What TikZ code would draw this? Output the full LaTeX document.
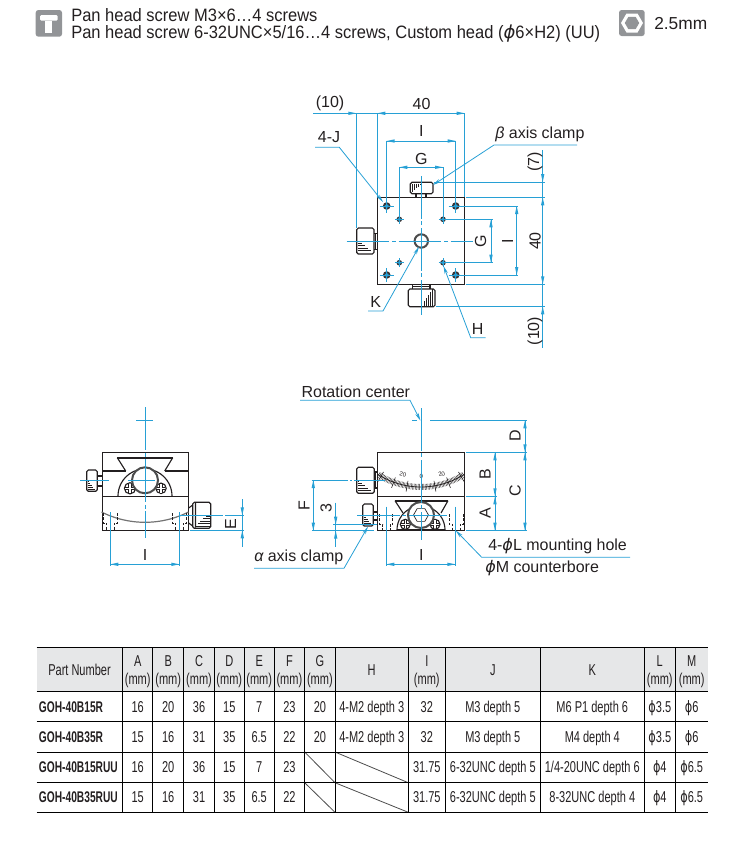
\documentclass[tikz,border=0pt]{standalone}
\usepackage{fontspec}
\setmainfont{Liberation Sans}
\newfontfamily\narrowfont[FakeStretch=0.70]{Liberation Sans}
\newfontfamily\boldnarrow[FakeStretch=0.66]{Liberation Sans}
\newfontfamily\headfont[FakeStretch=0.92]{Liberation Sans}
\newfontfamily\gkfont{DejaVu Sans}
\newfontfamily\gknarrow[FakeStretch=0.72]{DejaVu Sans}
\usetikzlibrary{arrows.meta}
\definecolor{dimc}{HTML}{27A0D5}
\definecolor{inkc}{HTML}{231F20}
\definecolor{iconc}{HTML}{929497}
\definecolor{headc}{HTML}{E6E7E8}
\newcommand{\phisym}{{\gkfont\itshape\char"03D5}}
\newcommand{\tabphi}{{\gknarrow\char"03D5}}
\newcommand{\atip}[3]{\fill[dimc,shift={(#1,#2)},rotate=#3] (0,0)--(-8,1.7)--(-8,-1.7)--cycle;}
\newcommand{\bighole}[2]{\fill[inkc!90] (#1,#2) circle[radius=3.8];\fill[dimc] (#1-2.2,#2)--(#1,#2-2.2)--(#1+2.2,#2)--(#1,#2+2.2)--cycle;\draw[dimline] (#1-7,#2)--(#1+7,#2) (#1,#2-7)--(#1,#2+7);}
\newcommand{\smallhole}[2]{\fill[inkc!90] (#1,#2) circle[radius=2.8];\fill[dimc] (#1-1.8,#2)--(#1,#2-1.8)--(#1+1.8,#2)--(#1,#2+1.8)--cycle;\draw[dimline] (#1-4.5,#2)--(#1+4.5,#2) (#1,#2-4.5)--(#1,#2+4.5);}
\newcommand{\semi}[3]{\draw[part] plot[domain=-90:90,samples=31]({#1+#3*sin(\x)},{#2-#3*cos(\x)});}
\newcommand{\xscrew}[3]{\draw[part,fill=white] (#1,#2) circle[radius=#3];
  \draw[line width=2.4pt,inkc] (#1-#3+1,#2)--(#1+#3-1,#2) (#1,#2-#3+1)--(#1,#2+#3-1);
  \draw[line width=1.1pt,white] (#1-#3+1,#2)--(#1+#3-1,#2) (#1,#2-#3+1)--(#1,#2+#3-1);}
\newcommand{\cbore}[4]{\draw[hidden] (#1-#2,#3)--(#1-#2,#3+10)--(#1-#2*0.55,#3+10)--(#1-#2*0.55,#4) (#1+#2,#3)--(#1+#2,#3+10)--(#1+#2*0.55,#3+10)--(#1+#2*0.55,#4);}
\newcommand{\hhatch}[6]{\foreach \i in {0,...,#4}{\draw[thinpart] (#1,#2+#3*\i)--(#1+#5+#6*\i,#2+#3*\i);}}
\newcommand{\cell}[4]{\node[tabtext,anchor=base] (#1) at (#2,#3+5.6) {#4};}
\newcommand{\pn}[3]{\node[tabtext,anchor=base west,inner xsep=0pt,font=\boldnarrow\fontsize{11.6pt}{12pt}\selectfont\bfseries] (#1) at (38.7,#2+5.6) {#3};}
\newcommand{\hcol}[3]{\node[tabtext,anchor=base] (#1a) at (#2,666.5) {#3};\node[tabtext,anchor=base] (#1b) at (#2,684.3) {(mm)};}
\tikzset{
  x=0.75pt,y=-0.75pt,
  part/.style={inkc,line width=0.85pt},
  thinpart/.style={inkc,line width=0.5pt},
  boldpart/.style={inkc,line width=1.8pt},
  ring/.style={black!70,line width=1.5pt},
  hidden/.style={inkc,line width=0.5pt,dash pattern=on 2pt off 1.2pt},
  dimline/.style={dimc,line width=0.6pt},
  centerline/.style={dimc,line width=0.6pt,dash pattern=on 32pt off 2pt on 3pt off 2pt},
  leaderline/.style={dimc,line width=0.6pt,-{Stealth[length=6pt,width=2.6pt]}},
  lab/.style={inkc,inner sep=0pt,font=\fontsize{12pt}{13pt}\selectfont},
  tabtext/.style={inkc,inner sep=0pt,font=\narrowfont\fontsize{11.8pt}{12pt}\selectfont},
  headtext/.style={inkc,inner sep=0pt,anchor=west,font=\headfont\fontsize{13.45pt}{14pt}\selectfont},
  tinytext/.style={inkc,inner sep=0pt,font=\fontsize{4.5pt}{5pt}\selectfont},
  tabrule/.style={black,line width=0.75pt},
  slash/.style={black!70,line width=0.6pt},
}
\begin{document}
\begin{tikzpicture}
\useasboundingbox (0,0) rectangle (743,843);
% ---------- header
\fill[iconc,rounded corners=2pt] (35.7,10) rectangle (62,36.7);
\fill[white,rounded corners=1pt] (40,20.7)--(40,15)--(57.7,15)--(57.7,20.7)--cycle;
\fill[white] (45,20.7) rectangle (52.3,32.7);
\node[headtext] (h1) at (71,15) {Pan head screw M3×6…4 screws};
\node[headtext] (h2) at (71,33.5) {Pan head screw 6-32UNC×5/16…4 screws, Custom head ({\phisym}6×H2) (UU)};
\fill[iconc,rounded corners=2pt] (619,10) rectangle (644.7,36);
\fill[white] (621,23)--(626.5,13.5)--(637.5,13.5)--(643,23)--(637.5,32.5)--(626.5,32.5)--cycle;
\fill[iconc] (624.8,23)--(628.4,16.8)--(635.6,16.8)--(639.2,23)--(635.6,29.2)--(628.4,29.2)--cycle;
\node[headtext,font=\fontsize{13pt}{14pt}\selectfont] (h3) at (654,24) {2.5mm};

% ---------- top view parts
\draw[part] (377.3,197.3) rectangle (464.7,284.3);
\draw[part,rounded corners=1.2pt] (410.3,182.3) rectangle (433,193.7);
\draw[part] (416,193.7)--(416,197.3) (426,193.7)--(426,197.3);
\foreach \i in {0,...,4}{\draw[thinpart] (412+2*\i,183.5)--(412+2*\i,192-1.8*\i);}
\draw[part,rounded corners=1.2pt] (408.3,289) rectangle (435,306.7);
\draw[part] (412.3,284.3)--(412.3,289) (430,284.3)--(430,289) (412.3,286.5)--(430,286.5);
\foreach \i in {0,...,4}{\draw[thinpart] (424+2.2*\i,305.5)--(424+2.2*\i,301-3*\i);}
\draw[part,rounded corners=1.2pt] (356.7,228) rectangle (374,254);
\draw[part] (374,233.3)--(377.3,233.3) (374,249.3)--(377.3,249.3) (375.5,233.3)--(375.5,249.3);
\hhatch{357.5}{241}{2.4}{4}{1.5}{3}
\draw[ring] (421.3,241) circle[radius=6.7];

% ---------- top view dims
\draw[dimline] (313,113.3)--(464.7,113.3);
\draw[dimline] (356.3,113.3)--(356.3,228) (377.3,113.3)--(377.3,197.3) (464.7,113.3)--(464.7,197.3);
\atip{356.3}{113.3}{0}\atip{377.3}{113.3}{180}\atip{464.7}{113.3}{0}
\draw[dimline] (386.7,141)--(455.7,141) (386.7,141)--(386.7,213) (455.7,141)--(455.7,213);
\atip{386.7}{141}{180}\atip{455.7}{141}{0}
\draw[dimline] (399.3,167.3)--(443,167.3) (399.3,167.3)--(399.3,224) (443,167.3)--(443,224);
\atip{399.3}{167.3}{180}\atip{443}{167.3}{0}
\draw[dimline] (542.7,150)--(542.7,348);
\atip{542.7}{182}{270}\atip{542.7}{197.3}{90}\atip{542.7}{284.3}{270}\atip{542.7}{306.3}{90}
\draw[dimline] (433.5,182)--(545,182) (466,197.3)--(545,197.3) (466,284.3)--(545,284.3) (436,306.3)--(545,306.3);
\draw[dimline] (460,206)--(518,206) (460,275)--(518,275) (516.7,206)--(516.7,275);
\atip{516.7}{206}{90}\atip{516.7}{275}{270}
\draw[dimline] (444,219.3)--(492.5,219.3) (444,262.7)--(492.5,262.7) (491,219.3)--(491,262.7);
\atip{491}{219.3}{90}\atip{491}{262.7}{270}
\draw[centerline] (421.3,176)--(421.3,315);
\draw[centerline] (346.7,241)--(473,241);
\bighole{386.7}{206}\bighole{455.7}{206}\bighole{386.7}{275}\bighole{455.7}{275}
\smallhole{399.3}{219.3}\smallhole{443}{219.3}\smallhole{399.3}{262.7}\smallhole{443}{262.7}
\coordinate (jend) at (383,202);
\coordinate (bend) at (433,185);
\coordinate (kend) at (419,246.7);
\coordinate (hend) at (443.5,266);
\draw[leaderline] (315,147.3)--(339.3,147.3)--(jend);
\draw[leaderline] (577,145)--(494,145)--(bend);
\draw[leaderline] (368,311)--(383,311)--(kend);
\draw[leaderline] (485.7,337.7)--(470.7,337.7)--(hend);
\node[lab] (t10a) at (330,103) {(10)};
\node[lab] (t40a) at (421.5,104) {40};
\node[lab] (tIa) at (421.3,131) {I};
\node[lab] (tGa) at (421.3,159) {G};
\node[lab] (t4J) at (329,137.5) {4-J};
\node[lab,anchor=west] (tbeta) at (495,134) {{\itshape β} axis clamp};
\node[lab] (tK) at (375.7,301.7) {K};
\node[lab] (tH) at (477.7,329) {H};
\node[lab,rotate=90] (tGb) at (480.5,241) {G};
\node[lab,rotate=90] (tIb) at (507.5,241) {I};
\node[lab,rotate=90] (t40b) at (535,241) {40};
\node[lab,rotate=90] (t7) at (535,162) {(7)};
\node[lab,rotate=90] (t10b) at (535,331) {(10)};

% ---------- left side view parts
\draw[part] (102.3,452.3) rectangle (188.7,530.3);
\draw[part] (102.3,471)--(125.7,471) (164.7,471)--(188.7,471) (102.3,496.3)--(188.7,496.3);
\draw[boldpart] (117.3,457.7)--(172.7,457.7);
\draw[part] (117.3,457.7)--(125.7,471) (172.7,457.7)--(164.7,471);
\semi{145}{496}{27}
\xscrew{130}{488.3}{5.6}\xscrew{161}{488.3}{5.2}
\draw[ring,fill=white] (145,480.3) circle[radius=13];
\draw[black!55,line width=0.9pt] plot[domain=-26.6:26.6,samples=31]({145+97*sin(\x)},{425.3+97*cos(\x)});
\cbore{110.3}{7}{513}{530}\cbore{179.3}{7}{513}{530}
\draw[part,rounded corners=1.2pt] (86.7,470) rectangle (97.3,491.3);
\draw[part] (97.3,476)--(102.3,476) (97.3,486)--(102.3,486);
\hhatch{87.5}{481}{2.2}{4}{1}{1.6}
\draw[part,rounded corners=1.2pt] (192.7,502.3) rectangle (210.7,528.3);
\draw[part] (188.7,508)--(192.7,505) (188.7,523)--(192.7,526) (195.5,503)--(195.5,527.6);
\foreach \i in {0,...,4}{\draw[thinpart] (209.7,516+2.5*\i)--(206-2.8*\i,516+2.5*\i);}
% ---------- left side view dims
\draw[centerline] (145,407.3)--(145,538.3);
\draw[dimline] (136,420.3)--(153,420.3);
\draw[dimline] (80,480.3)--(109,480.3) (128,480.3)--(155,480.3);
\draw[centerline] (180,515.3)--(227,515.3);
\draw[dimline] (190,530.3)--(244,530.3) (227,515.3)--(244,515.3);
\draw[dimline] (242.3,499)--(242.3,547.3);
\atip{242.3}{515.3}{270}\atip{242.3}{530.3}{90}
\draw[dimline] (110.3,512)--(110.3,566) (179.3,512)--(179.3,566) (110.3,564.3)--(179.3,564.3);
\atip{110.3}{564.3}{180}\atip{179.3}{564.3}{0}
\node[lab] (tIc) at (145,555) {I};
\node[lab,rotate=90] (tE) at (230.7,523.7) {E};

% ---------- right side view parts
\draw[part] (377.3,452.3) rectangle (464.7,530.7);
\draw[part] (377.3,496.3)--(464.7,496.3);
\draw[boldpart] (395,500.7)--(448,500.7);
\draw[part] (395,500.7)--(403,513) (448,500.7)--(441,513);
\draw[inkc,line width=0.6pt] plot[domain=-33:33,samples=31]({421+80*sin(\x)},{407+80*cos(\x)});
\foreach \a in {-32,-31,...,32}{\draw[inkc,line width=0.3pt] ({421+77*sin(\a)},{407+77*cos(\a)})--({421+83*sin(\a)},{407+83*cos(\a)});}
\foreach \a in {-30,-20,-10,0,10,20,30}{\draw[inkc,line width=0.45pt] ({421+75*sin(\a)},{407+75*cos(\a)})--({421+86*sin(\a)},{407+86*cos(\a)});}
\node[tinytext,rotate=-15] (s20a) at (403,474) {20};
\node[tinytext] (s0) at (421.3,476) {0};
\node[tinytext,rotate=15] (s20b) at (441.7,474) {20};
\semi{421}{530}{24}
\draw[boldpart] (397,530.2)--(445,530.2);
\xscrew{405.3}{524.3}{5}\xscrew{435}{524.3}{5}
\draw[ring,fill=white] (421,515) circle[radius=13];
\draw[thinpart] (413.5,515)--(417.2,508.6)--(424.8,508.6)--(428.5,515)--(424.8,521.4)--(417.2,521.4)--cycle;
\cbore{386.3}{6.5}{514}{530}\cbore{456}{7}{514}{530}
\draw[part,rounded corners=1.2pt] (356.7,467.3) rectangle (374.3,493.3);
\draw[part] (374.3,472)--(377.3,472) (374.3,488)--(377.3,488) (375.8,472)--(375.8,488);
\hhatch{357.5}{481}{2.4}{4}{1.5}{3}
\draw[part,rounded corners=1.2pt] (362.7,504) rectangle (373.3,526);
\draw[part] (373.3,512)--(377.3,512) (373.3,520)--(377.3,520);
\hhatch{363.5}{515}{2.2}{4}{1}{1.5}
% ---------- right side view dims
\draw[centerline] (421.3,408)--(421.3,540);
\draw[dimline] (412.3,420.3)--(417,420.3) (430,420.3)--(527,420.3);
\draw[dimline] (466,452.3)--(527,452.3) (466,496.3)--(497,496.3) (466,530.7)--(527,530.7);
\draw[dimline] (495,452.3)--(495,530.7) (525,420.3)--(525,530.7);
\atip{495}{452.3}{90}\atip{495}{496.3}{270}\atip{495}{496.3}{90}\atip{495}{530.7}{270}
\atip{525}{420.3}{90}\atip{525}{452.3}{270}\atip{525}{452.3}{90}\atip{525}{530.7}{270}
\draw[dimline] (311.7,480)--(348,480) (350,480)--(352,480) (354,480)--(385,480);
\draw[dimline] (312,530.7)--(374,530.7) (313.3,480)--(313.3,530.7);
\atip{313.3}{480}{90}\atip{313.3}{530.7}{270}
\draw[dimline] (333,524.7)--(376.7,524.7) (335.7,502.7)--(335.7,546.7);
\atip{335.7}{524.7}{270}\atip{335.7}{530.7}{90}
\draw[centerline] (357,515)--(446.7,515);
\draw[dimline] (386.3,506.7)--(386.3,566) (455.3,506.7)--(455.3,566) (386.3,564.3)--(455.3,564.3);
\atip{386.3}{564.3}{180}\atip{455.3}{564.3}{0}
\coordinate (rend) at (420.5,420.7);
\coordinate (aend) at (368,526.5);
\coordinate (mend) at (455.7,530.5);
\draw[leaderline] (300,400.3)--(410,400.3)--(rend);
\draw[leaderline] (254,568.3)--(344,568.3)--(aend);
\draw[leaderline] (630,557.3)--(481.7,557.3)--(mend);
\node[lab,anchor=west] (trot) at (301.3,392) {Rotation center};
\node[lab,anchor=west] (talpha) at (254,557.5) {{\itshape α} axis clamp};
\node[lab,anchor=west] (tmount) at (488,546) {4-\phisym L mounting hole};
\node[lab,anchor=west] (tcbore) at (485,568.3) {\phisym M counterbore};
\node[lab] (tId) at (421.3,555) {I};
\node[lab,rotate=90] (tD) at (515,436) {D};
\node[lab,rotate=90] (tB) at (485,474) {B};
\node[lab,rotate=90] (tA) at (485,512.7) {A};
\node[lab,rotate=90] (tC) at (515,491) {C};
\node[lab,rotate=90] (tF) at (304,505.3) {F};
\node[lab,rotate=90] (t3) at (326,507.7) {3};

% ---------- table
\fill[headc] (36.7,647.3) rectangle (708,691);
\draw[slash] (304.7,752)--(335,782.7) (304.7,782.7)--(335,812.3) (335,752)--(408.3,782.7) (335,782.7)--(408.3,812.3);
\foreach \yy in {647.3,691,721.7,752,782.7,812.3}{\draw[tabrule] (36.7,\yy)--(708,\yy);}
\foreach \xx in {122.7,152.7,183.7,214.3,244.3,274,304.7,335,408.3,445.3,540.3,644.3,675.3}{\draw[tabrule] (\xx,647.3)--(\xx,812.3);}
\cell{hpn}{79.5}{670}{Part Number}
\hcol{hA}{137.7}{A}\hcol{hB}{168.2}{B}\hcol{hC}{199}{C}\hcol{hD}{229.3}{D}\hcol{hE}{259.2}{E}\hcol{hF}{289.4}{F}\hcol{hG}{319.9}{G}
\cell{hH}{371.7}{670}{H}
\hcol{hI}{426.8}{I}
\cell{hJ}{492.8}{670}{J}
\cell{hK}{592.3}{670}{K}
\hcol{hL}{659.8}{L}\hcol{hM}{691.7}{M}
% row 1
\pn{p1}{706.7}{GOH-40B15R}
\cell{a1}{137.7}{706.7}{16}\cell{b1}{168.2}{706.7}{20}\cell{c1}{199}{706.7}{36}\cell{d1}{229.3}{706.7}{15}\cell{e1}{259.2}{706.7}{7}\cell{f1}{289.4}{706.7}{23}\cell{g1}{319.9}{706.7}{20}
\cell{h1c}{371.7}{706.7}{4-M2 depth 3}\cell{i1}{426.8}{706.7}{32}\cell{j1}{492.8}{706.7}{M3 depth 5}\cell{k1}{592.3}{706.7}{M6 P1 depth 6}\cell{l1}{659.8}{706.7}{\tabphi 3.5}\cell{m1}{691.7}{706.7}{\tabphi 6}
% row 2
\pn{p2}{737.3}{GOH-40B35R}
\cell{a2}{137.7}{737.3}{15}\cell{b2}{168.2}{737.3}{16}\cell{c2}{199}{737.3}{31}\cell{d2}{229.3}{737.3}{35}\cell{e2}{259.2}{737.3}{6.5}\cell{f2}{289.4}{737.3}{22}\cell{g2}{319.9}{737.3}{20}
\cell{h2c}{371.7}{737.3}{4-M2 depth 3}\cell{i2}{426.8}{737.3}{32}\cell{j2}{492.8}{737.3}{M3 depth 5}\cell{k2}{592.3}{737.3}{M4 depth 4}\cell{l2}{659.8}{737.3}{\tabphi 3.5}\cell{m2}{691.7}{737.3}{\tabphi 6}
% row 3
\pn{p3}{767.3}{GOH-40B15RUU}
\cell{a3}{137.7}{767.3}{16}\cell{b3}{168.2}{767.3}{20}\cell{c3}{199}{767.3}{36}\cell{d3}{229.3}{767.3}{15}\cell{e3}{259.2}{767.3}{7}\cell{f3}{289.4}{767.3}{23}
\cell{i3}{426.8}{767.3}{31.75}\cell{j3}{492.8}{767.3}{6-32UNC depth 5}\cell{k3}{592.3}{767.3}{1/4-20UNC depth 6}\cell{l3}{659.8}{767.3}{\tabphi 4}\cell{m3}{691.7}{767.3}{\tabphi 6.5}
% row 4
\pn{p4}{797.3}{GOH-40B35RUU}
\cell{a4}{137.7}{797.3}{15}\cell{b4}{168.2}{797.3}{16}\cell{c4}{199}{797.3}{31}\cell{d4}{229.3}{797.3}{35}\cell{e4}{259.2}{797.3}{6.5}\cell{f4}{289.4}{797.3}{22}
\cell{i4}{426.8}{797.3}{31.75}\cell{j4}{492.8}{797.3}{6-32UNC depth 5}\cell{k4}{592.3}{797.3}{8-32UNC depth 4}\cell{l4}{659.8}{797.3}{\tabphi 4}\cell{m4}{691.7}{797.3}{\tabphi 6.5}
\end{tikzpicture}
\end{document}
